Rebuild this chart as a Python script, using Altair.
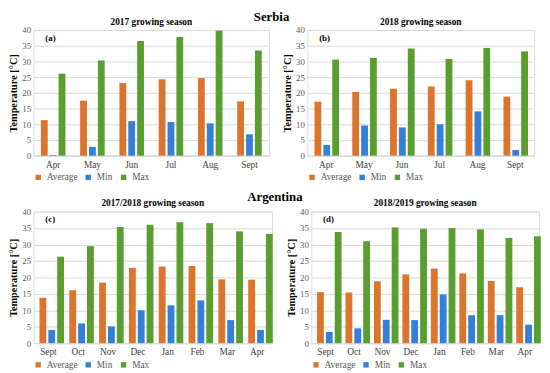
import altair as alt
import pandas as pd

series = ["Average", "Min", "Max"]
colors = ["#DD742C", "#3380D6", "#5A9E2F"]

months_serbia = ["Apr", "May", "Jun", "Jul", "Aug", "Sept"]
a_avg = [11.3, 17.5, 23.1, 24.3, 24.7, 17.3]
a_min = [0.2, 2.8, 11.0, 10.7, 10.3, 6.8]
a_max = [26.1, 30.3, 36.5, 37.8, 39.8, 33.5]

b_avg = [17.2, 20.3, 21.3, 22.0, 24.0, 18.8]
b_min = [3.4, 9.6, 9.0, 10.0, 14.1, 1.8]
b_max = [30.6, 31.1, 34.1, 30.8, 34.3, 33.2]

months_arg = ["Sept", "Oct", "Nov", "Dec", "Jan", "Feb", "Mar", "Apr"]
c_avg = [13.8, 16.1, 18.4, 22.9, 23.3, 23.5, 19.4, 19.3]
c_min = [4.0, 6.0, 5.1, 10.0, 11.5, 13.0, 7.0, 4.0]
c_max = [26.3, 29.5, 35.3, 36.0, 36.8, 36.5, 34.0, 33.2]

d_avg = [15.5, 15.4, 18.8, 20.9, 22.7, 21.2, 18.9, 17.0]
d_min = [3.4, 4.5, 7.1, 7.0, 14.8, 8.5, 8.5, 5.6]
d_max = [33.8, 31.0, 35.2, 34.8, 35.0, 34.6, 32.0, 32.5]

FONT = "Liberation Serif"


def frame(months, avg, mn, mx):
    rows = []
    for i, m in enumerate(months):
        for s, v in zip(series, [avg[i], mn[i], mx[i]]):
            rows.append({"month": m, "series": s, "value": v})
    return pd.DataFrame(rows)


def panel(months, avg, mn, mx, title, tag, width, height, pad_inner):
    df = frame(months, avg, mn, mx)
    bars = alt.Chart(df).mark_bar().encode(
        x=alt.X("month:N", sort=months,
                scale=alt.Scale(paddingInner=pad_inner, paddingOuter=pad_inner / 2),
                axis=alt.Axis(title=None, labelAngle=0, ticks=False, domainColor="#d9d9d9",
                              labelFont=FONT, labelFontSize=9.5, labelColor="#404040",
                              labelPadding=4)),
        xOffset=alt.XOffset("series:N", sort=series,
                            scale=alt.Scale(paddingInner=0.23, paddingOuter=0)),
        y=alt.Y("value:Q", scale=alt.Scale(domain=[0, 40]),
                axis=alt.Axis(title="Temperature [°C]", values=list(range(0, 41, 5)),
                              ticks=False, domain=False, gridColor="#d9d9d9",
                              labelFont=FONT, labelFontSize=9, labelColor="#595959",
                              titleFont=FONT, titleFontSize=10.5, titleFontWeight="bold",
                              titleColor="#000000", labelPadding=3, titlePadding=3)),
        color=alt.Color("series:N", sort=series,
                        scale=alt.Scale(domain=series, range=colors),
                        legend=alt.Legend(title=None, orient="bottom", direction="horizontal",
                                          symbolType="square", symbolSize=30,
                                          labelFont=FONT, labelFontSize=9.5,
                                          labelColor="#595959", columnPadding=6,
                                          offset=3, padding=0)),
    )
    lab = alt.Chart(pd.DataFrame({"t": [tag]})).mark_text(
        font=FONT, fontSize=9, fontWeight="bold", align="left", baseline="middle"
    ).encode(text="t:N", x=alt.value(12), y=alt.value(8))
    return (bars + lab).properties(
        width=width, height=height,
        title=alt.TitleParams(title, font=FONT, fontSize=9.5, fontWeight="bold",
                              color="#000000", offset=0, anchor="middle"),
    )


pa = panel(months_serbia, a_avg, a_min, a_max, "2017 growing season", "(a)", 240, 128, 0.375)
pb = panel(months_serbia, b_avg, b_min, b_max, "2018 growing season", "(b)", 231, 128, 0.375)
pc = panel(months_arg, c_avg, c_min, c_max, "2017/2018 growing season", "(c)", 243, 134, 0.4)
pd_ = panel(months_arg, d_avg, d_min, d_max, "2018/2019 growing season", "(d)", 232, 134, 0.4)

top = alt.hconcat(pa, pb, spacing=12).resolve_scale(color="independent").properties(
    title=alt.TitleParams("Serbia", font=FONT, fontSize=13, fontWeight="bold",
                          color="#000000", anchor="middle", offset=-8)
)
bottom = alt.hconcat(pc, pd_, spacing=12).resolve_scale(color="independent").properties(
    title=alt.TitleParams("Argentina", font=FONT, fontSize=13, fontWeight="bold",
                          color="#000000", anchor="middle", offset=-6)
)

chart = alt.vconcat(top, bottom, spacing=8).resolve_scale(color="independent").properties(
    padding=0
).configure_view(stroke=None).configure(background="white", font=FONT)

chart.save("out.html", embed_options={"renderer": "svg", "actions": False})
